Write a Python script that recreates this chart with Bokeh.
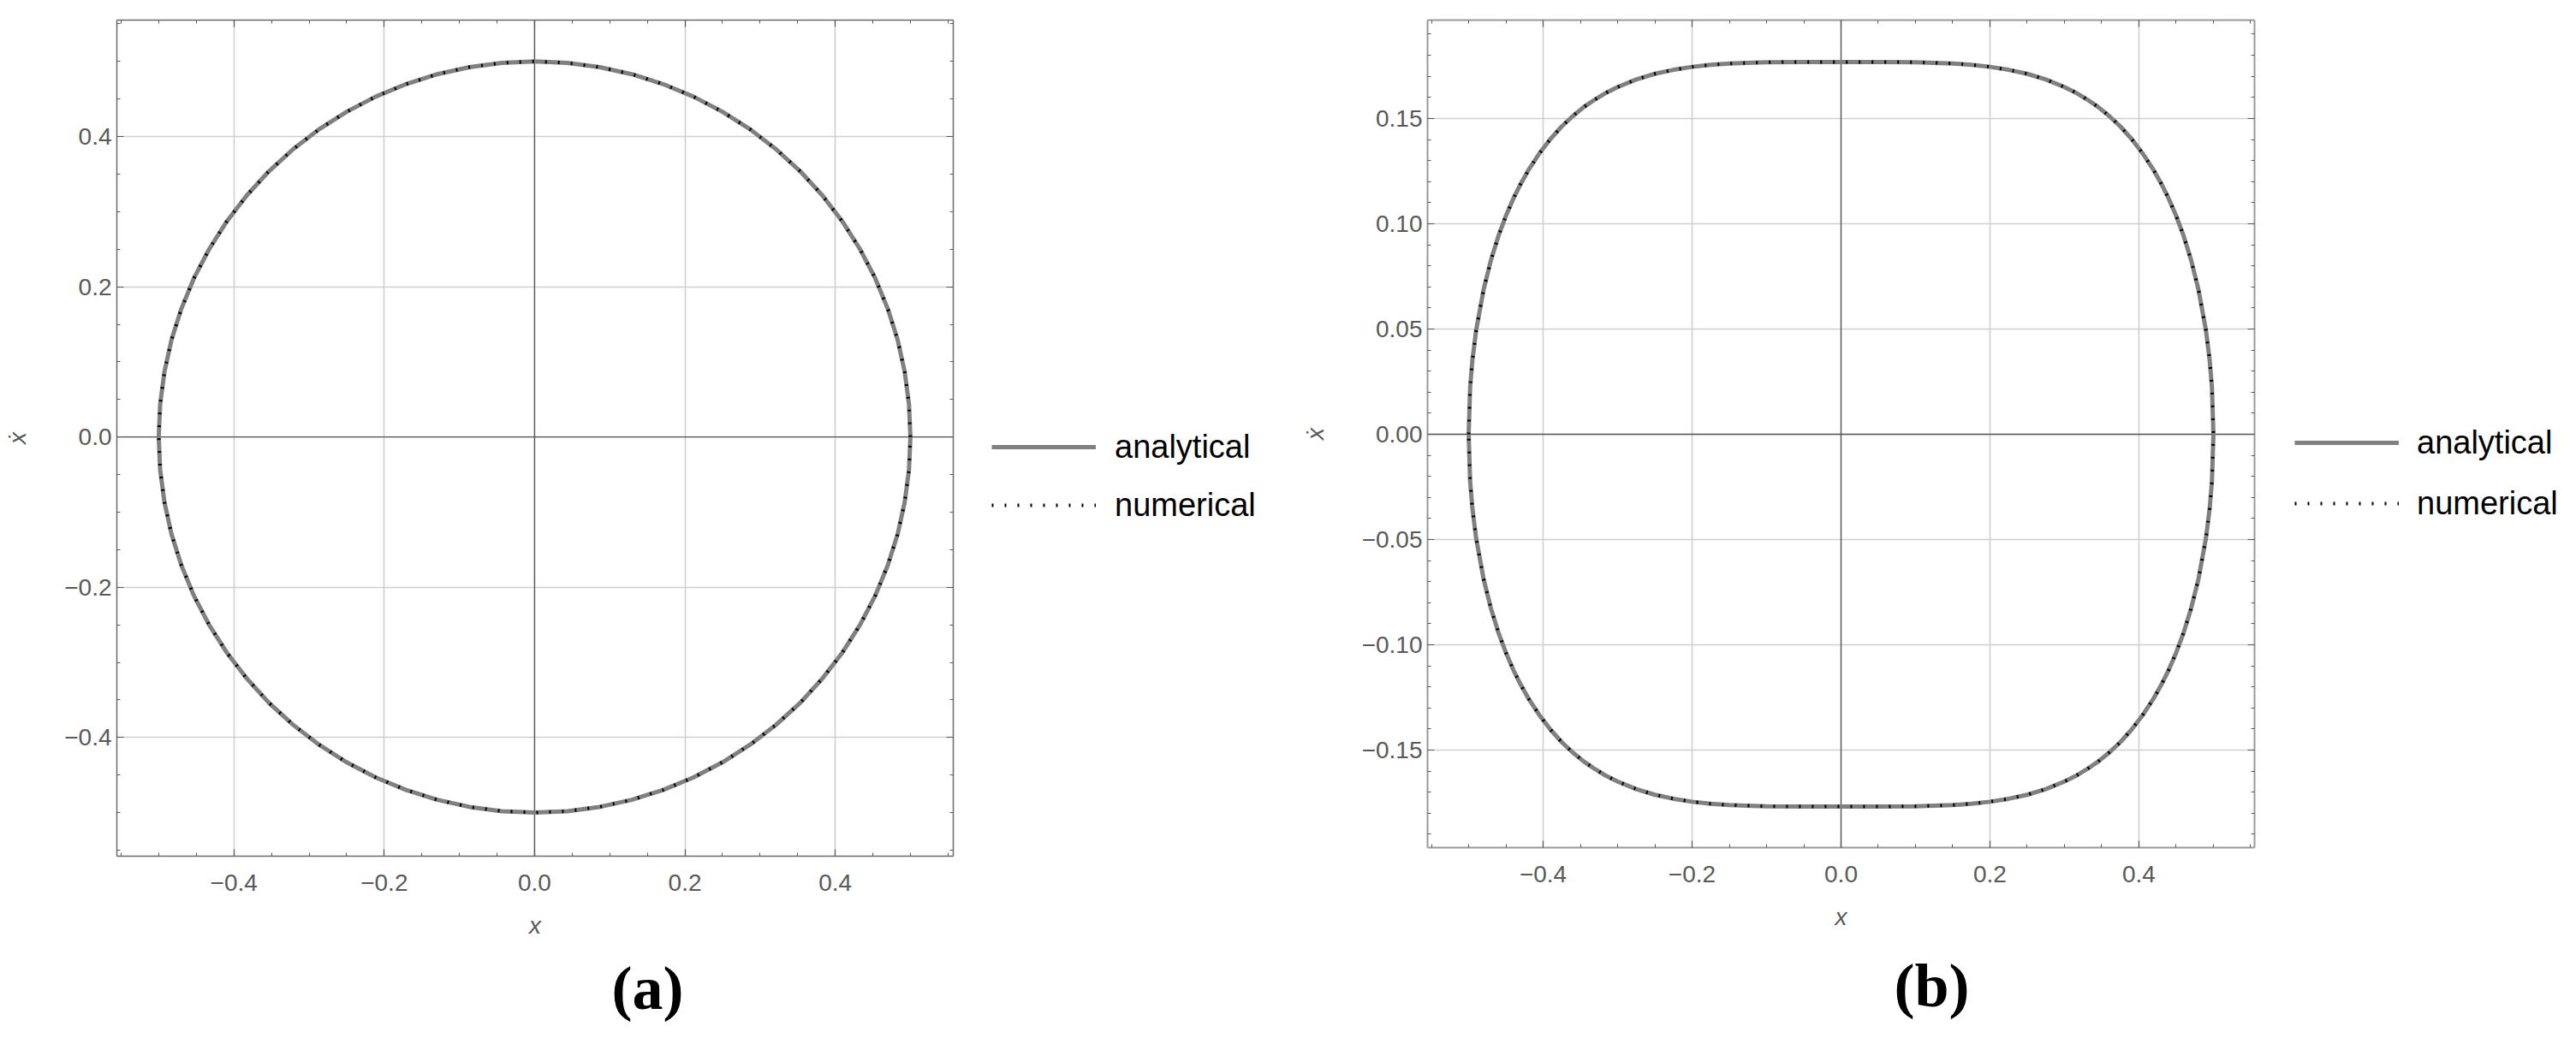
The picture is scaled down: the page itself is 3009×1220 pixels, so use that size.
from bokeh.plotting import figure
from bokeh.models import FixedTicker, LinearAxis, Span, Legend, LegendItem, Title
from bokeh.layouts import row
from bokeh.embed import file_html
from bokeh.resources import INLINE

# ---------------- data ----------------
# (a) phase trajectory (closed curve), counter-clockwise from (0.5, 0)
a_x = [0.5000, 0.4981, 0.4924, 0.4830, 0.4698, 0.4532, 0.4330, 0.4096, 0.3830, 0.3536,
       0.3214, 0.2868, 0.2500, 0.2113, 0.1710, 0.1294, 0.0868, 0.0436, 0.0000,
       -0.0436, -0.0868, -0.1294, -0.1710, -0.2113, -0.2500, -0.2868, -0.3214, -0.3536,
       -0.3830, -0.4096, -0.4330, -0.4532, -0.4698, -0.4830, -0.4924, -0.4981, -0.5000,
       -0.4981, -0.4924, -0.4830, -0.4698, -0.4532, -0.4330, -0.4096, -0.3830, -0.3536,
       -0.3214, -0.2868, -0.2500, -0.2113, -0.1710, -0.1294, -0.0868, -0.0436, 0.0000,
       0.0436, 0.0868, 0.1294, 0.1710, 0.2113, 0.2500, 0.2868, 0.3214, 0.3536,
       0.3830, 0.4096, 0.4330, 0.4532, 0.4698, 0.4830, 0.4924, 0.4981, 0.5000]
a_y = [0.0000, 0.0436, 0.0868, 0.1294, 0.1710, 0.2113, 0.2500, 0.2868, 0.3214, 0.3536,
       0.3830, 0.4096, 0.4330, 0.4532, 0.4698, 0.4830, 0.4924, 0.4981, 0.5000,
       0.4981, 0.4924, 0.4830, 0.4698, 0.4532, 0.4330, 0.4096, 0.3830, 0.3536,
       0.3214, 0.2868, 0.2500, 0.2113, 0.1710, 0.1294, 0.0868, 0.0436, 0.0000,
       -0.0436, -0.0868, -0.1294, -0.1710, -0.2113, -0.2500, -0.2868, -0.3214, -0.3536,
       -0.3830, -0.4096, -0.4330, -0.4532, -0.4698, -0.4830, -0.4924, -0.4981, -0.5000,
       -0.4981, -0.4924, -0.4830, -0.4698, -0.4532, -0.4330, -0.4096, -0.3830, -0.3536,
       -0.3214, -0.2868, -0.2500, -0.2113, -0.1710, -0.1294, -0.0868, -0.0436, 0.0000]

# (b) phase trajectory: upper branch (left -> right) and lower branch (right -> left)
b_upper_x = [-0.5, -0.498, -0.495, -0.49, -0.48, -0.47, -0.46, -0.45, -0.44, -0.43, -0.42,
             -0.405, -0.39, -0.375, -0.36, -0.345, -0.33, -0.315, -0.3, -0.275, -0.25, -0.225,
             -0.2, -0.175, -0.15, -0.1, -0.05, 0.0, 0.05, 0.1, 0.15, 0.175, 0.2, 0.225, 0.25,
             0.275, 0.3, 0.315, 0.33, 0.345, 0.36, 0.375, 0.39, 0.405, 0.42, 0.43, 0.44, 0.45,
             0.46, 0.47, 0.48, 0.49, 0.495, 0.498, 0.5]
b_upper_y = [0.0, 0.0223, 0.0351, 0.0493, 0.0686, 0.0828, 0.0942, 0.1037, 0.1119, 0.1190, 0.1253,
             0.1334, 0.1403, 0.1462, 0.1512, 0.1555, 0.1591, 0.1623, 0.1649, 0.1685, 0.1712, 0.1731,
             0.1745, 0.1755, 0.1761, 0.1767, 0.1768, 0.1768, 0.1768, 0.1767, 0.1761, 0.1755, 0.1745,
             0.1731, 0.1712, 0.1685, 0.1649, 0.1623, 0.1591, 0.1555, 0.1512, 0.1462, 0.1403, 0.1334,
             0.1253, 0.1190, 0.1119, 0.1037, 0.0942, 0.0828, 0.0686, 0.0493, 0.0351, 0.0223, 0.0]
b_lower_x = [0.5, 0.498, 0.495, 0.49, 0.48, 0.47, 0.46, 0.45, 0.44, 0.43, 0.42,
             0.405, 0.39, 0.375, 0.36, 0.345, 0.33, 0.315, 0.3, 0.275, 0.25, 0.225,
             0.2, 0.175, 0.15, 0.1, 0.05, 0.0, -0.05, -0.1, -0.15, -0.175, -0.2, -0.225, -0.25,
             -0.275, -0.3, -0.315, -0.33, -0.345, -0.36, -0.375, -0.39, -0.405, -0.42, -0.43, -0.44,
             -0.45, -0.46, -0.47, -0.48, -0.49, -0.495, -0.498, -0.5]
b_lower_y = [0.0, -0.0223, -0.0351, -0.0493, -0.0686, -0.0828, -0.0942, -0.1037, -0.1119, -0.1190, -0.1253,
             -0.1334, -0.1403, -0.1462, -0.1512, -0.1555, -0.1591, -0.1623, -0.1649, -0.1685, -0.1712, -0.1731,
             -0.1745, -0.1755, -0.1761, -0.1767, -0.1768, -0.1768, -0.1768, -0.1767, -0.1761, -0.1755, -0.1745,
             -0.1731, -0.1712, -0.1685, -0.1649, -0.1623, -0.1591, -0.1555, -0.1512, -0.1462, -0.1403, -0.1334,
             -0.1253, -0.1190, -0.1119, -0.1037, -0.0942, -0.0828, -0.0686, -0.0493, -0.0351, -0.0223, 0.0]

# ticks and labels
a_xticks = [-0.4, -0.2, 0.0, 0.2, 0.4]
a_xtick_labels = ["\u22120.4", "\u22120.2", "0.0", "0.2", "0.4"]
a_yticks = [-0.4, -0.2, 0.0, 0.2, 0.4]
a_ytick_labels = ["\u22120.4", "\u22120.2", "0.0", "0.2", "0.4"]
b_xticks = [-0.4, -0.2, 0.0, 0.2, 0.4]
b_xtick_labels = ["\u22120.4", "\u22120.2", "0.0", "0.2", "0.4"]
b_yticks = [-0.15, -0.10, -0.05, 0.0, 0.05, 0.10, 0.15]
b_ytick_labels = ["\u22120.15", "\u22120.10", "\u22120.05", "0.00", "0.05", "0.10", "0.15"]
a_minor = [round(-0.55 + 0.05 * i, 2) for i in range(23)]
b_xminor = [round(-0.55 + 0.05 * i, 2) for i in range(23)]
b_yminor = [round(-0.19 + 0.01 * i, 2) for i in range(39)]

series_names = ["analytical", "numerical"]
panel_names = ["(a)", "(b)"]
x_title = "x"
y_title = "\u1e8b"

# ---------------- styling ----------------
TICK_FONT = "Liberation Sans"
TEXT_GRAY = "#595959"
H = 1215
ANALYTIC = dict(line_color="#808080", line_width=5, line_join="round")
NUMERIC = dict(line_color="black", line_width=4, line_dash="2 13")


def style_axis(ax, ticks, labels, minor, frame_color, frame_w, show_labels, standoff):
    ax.ticker = FixedTicker(ticks=ticks, minor_ticks=minor)
    ax.major_tick_in = 8
    ax.major_tick_out = 0
    ax.minor_tick_in = 4
    ax.minor_tick_out = 0
    ax.axis_line_color = frame_color
    ax.axis_line_width = frame_w
    ax.major_tick_line_color = "#5a5a5a"
    ax.minor_tick_line_color = "#5a5a5a"
    ax.major_tick_line_width = 1.2
    ax.minor_tick_line_width = 1.0
    if show_labels:
        ax.major_label_overrides = dict(zip(ticks, labels))
        ax.major_label_text_font = TICK_FONT
        ax.major_label_text_color = TEXT_GRAY
        ax.major_label_text_font_size = "28px"
        ax.major_label_standoff = standoff
        ax.axis_label_text_font = TICK_FONT
        ax.axis_label_text_font_size = "28px"
        ax.axis_label_text_font_style = "italic"
        ax.axis_label_text_color = TEXT_GRAY
    else:
        ax.major_label_text_color = None
        ax.major_label_text_font_size = "1px"
        ax.major_label_standoff = 0


def make_panel(xs, ys, xr, yr, xt, xtl, xmin, yt, ytl, ymin, fw, fh, borders,
               frame_color, frame_w, panel_name, title_offset, title_standoff):
    bl, br, bt, bb = borders
    p = figure(frame_width=fw, frame_height=fh, x_range=xr, y_range=yr,
               output_backend="svg", toolbar_location=None,
               min_border_left=bl, min_border_right=br, min_border_top=bt, min_border_bottom=bb,
               background_fill_color="white", border_fill_color="white",
               outline_line_color=None)
    bottom = p.xaxis[0]
    left = p.yaxis[0]
    top = LinearAxis()
    right = LinearAxis()
    p.add_layout(top, "above")
    p.add_layout(right, "right")

    style_axis(bottom, xt, xtl, xmin, frame_color, frame_w, True, 21)
    style_axis(left, yt, ytl, ymin, frame_color, frame_w, True, 6)
    style_axis(top, xt, xtl, xmin, frame_color, frame_w, False, 0)
    style_axis(right, yt, ytl, ymin, frame_color, frame_w, False, 0)
    bottom.axis_label = x_title
    bottom.axis_label_standoff = 22
    left.axis_label = y_title
    left.axis_label_standoff = 36

    p.xgrid.ticker = FixedTicker(ticks=xt)
    p.ygrid.ticker = FixedTicker(ticks=yt)
    p.grid.grid_line_color = "#cfcfcf"
    p.grid.grid_line_width = 1.6

    p.add_layout(Span(location=0, dimension="height", line_color="#555555",
                      line_width=1.3, level="underlay"))
    p.add_layout(Span(location=0, dimension="width", line_color="#555555",
                      line_width=1.3, level="underlay"))

    p.line(xs, ys, **ANALYTIC)
    p.line(xs, ys, **NUMERIC)

    p.add_layout(Title(text=panel_name, align="left", offset=title_offset,
                       standoff=title_standoff, text_font="Liberation Serif",
                       text_font_style="bold", text_font_size="72px",
                       text_color="black"), "below")
    return p


def make_legend(xs, ys, width, loc, spacing, standoff):
    # the curves are drawn here only for their legend entries; the view range
    # is placed away from the data so that nothing but the legend shows
    lp = figure(width=width, height=H, x_range=(5, 6), y_range=(5, 6),
                output_backend="svg", toolbar_location=None,
                x_axis_location=None, y_axis_location=None,
                min_border_left=0, min_border_right=0, min_border_top=0, min_border_bottom=0,
                background_fill_color="white", border_fill_color="white",
                outline_line_color=None)
    lp.grid.visible = False
    r1 = lp.line(xs, ys, **ANALYTIC)
    r2 = lp.line(xs, ys, **NUMERIC)
    legend = Legend(items=[LegendItem(label=series_names[0], renderers=[r1]),
                           LegendItem(label=series_names[1], renderers=[r2])],
                    location=loc, orientation="vertical",
                    glyph_width=122, glyph_height=48, label_height=48,
                    label_standoff=standoff, spacing=spacing,
                    padding=0, margin=0, border_line_color=None,
                    background_fill_alpha=0,
                    label_text_font="Liberation Sans", label_text_font_size="38px",
                    label_text_color="black")
    lp.add_layout(legend)
    return lp


pa = make_panel(a_x, a_y, (-0.5557, 0.5570), (-0.5580, 0.5550),
                a_xticks, a_xtick_labels, a_minor, a_yticks, a_ytick_labels, a_minor,
                977, 977, (136, 20, 23, H - 23 - 977), "#6a6a6a", 1.5,
                panel_names[0], 578, 26)
la = make_legend(a_x, a_y, 367, (25, 376), 20, 22)

b_x = b_upper_x + b_lower_x
b_y = b_upper_y + b_lower_y
pb = make_panel(b_x, b_y, (-0.5552, 0.5552), (-0.1963, 0.1967),
                b_xticks, b_xtick_labels, b_xminor, b_yticks, b_ytick_labels, b_yminor,
                966, 967, (167, 20, 23, H - 23 - 967), "#9a9a9a", 2,
                panel_names[1], 545, 41)
lb = make_legend(b_x, b_y, 350, (27, 378), 23, 21)

layout = row(pa, la, pb, lb)
open("out.html", "w").write(file_html(layout, INLINE))
